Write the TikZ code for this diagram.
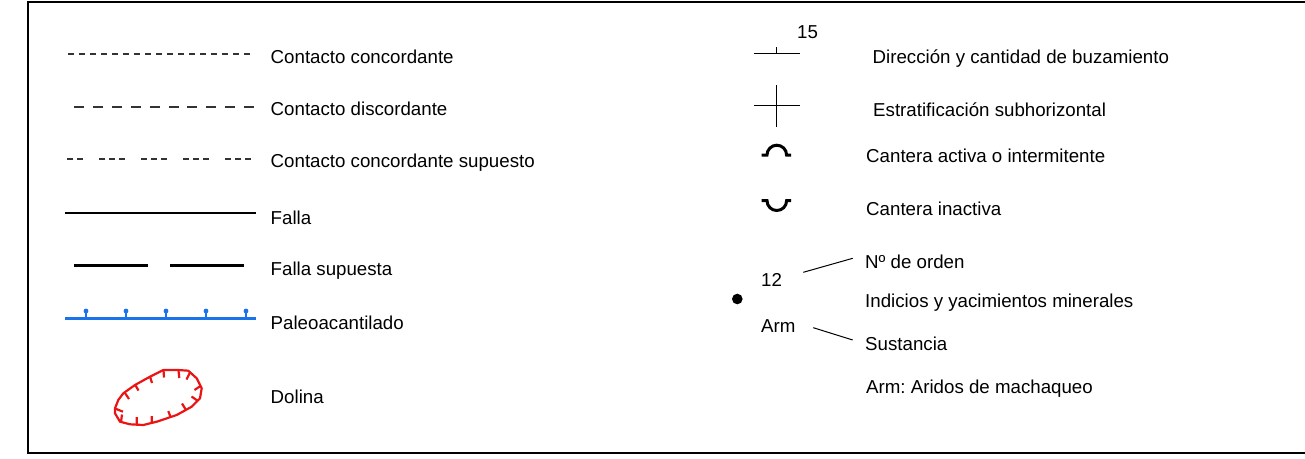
\documentclass[tikz,border=0pt]{standalone}
\usepackage{fontspec}
\setmainfont{Liberation Sans}
\definecolor{paleo}{RGB}{25,115,235}
\definecolor{dolred}{RGB}{235,20,20}
\frenchspacing
\begin{document}
\begin{tikzpicture}[x=1pt,y=-1pt,
  lbl/.style={anchor=base west,inner sep=0pt,font=\fontsize{18.7}{22}\selectfont},
  thinline/.style={draw=black!80,line width=1.1pt},
  falla/.style={draw=black,line width=2.6pt},
  cantera/.style={draw=black,line width=3pt},
  dolina/.style={draw=dolred,line width=2.2pt,line join=round}]
\useasboundingbox (0,0) rectangle (1305,458);
\draw[line width=2.5pt] (1320,1.8) -- (28,1.8) -- (28,453) -- (1320,453);

% ---- left column symbols
\draw[thinline,dash pattern=on 6pt off 5pt] (68,54) -- (254,54);
\draw[thinline,dash pattern=on 10pt off 8.9pt] (74,107) -- (254,107);
\draw[thinline,dash pattern=on 6pt off 4pt on 6pt off 4pt on 6pt off 16pt,dash phase=10pt] (67,159) -- (255,159);
\draw[falla] (65,213) -- (256,213);
\draw[falla] (74,265.3) -- (148,265.3);
\draw[falla] (170,265.3) -- (244,265.3);
\draw[draw=paleo,line width=3pt] (65,318.3) -- (256,318.3);
\foreach \t in {86,126,166,206,246}{
  \draw[draw=paleo,line width=1.8pt] (\t,318) -- (\t,311);
  \fill[paleo] (\t,311) circle (2.4);
}
% dolina
\draw[dolina] (115,408.3) -- (118.3,400) -- (123.3,393.3) -- (135,385) -- (150,376.7)
  -- (163.3,370) -- (178.3,370) -- (188.3,370.7) -- (196.7,378.3) -- (201.7,388.3)
  -- (200,398.3) -- (191.7,406.7) -- (176.7,415) -- (156.7,421.7) -- (143.3,425)
  -- (130,424.3) -- (120,421.7) -- (115,413.3) -- cycle;
\draw[dolina] (125,393) -- (129,399)
  (135,384.5) -- (138.5,390.5)
  (150,376.5) -- (152,383)
  (163.5,370) -- (164,377.5)
  (178.5,370.5) -- (179.3,378)
  (190,372.5) -- (186.5,379.5)
  (200.5,386) -- (194.5,390)
  (198,401) -- (191.5,396.5)
  (186,410) -- (182,403.5)
  (170.5,417) -- (168.3,411)
  (151.7,423) -- (151.7,416)
  (136.7,424.7) -- (136.7,417)
  (121,422) -- (122,414.5)
  (115,408.5) -- (123,411.7);

% ---- left column labels
\node[lbl] (l1) at (270.5,63) {Contacto concordante};
\node[lbl] (l2) at (270.5,115) {Contacto discordante};
\node[lbl] (l3) at (270.5,167) {Contacto concordante supuesto};
\node[lbl] (l4) at (270.5,224) {Falla};
\node[lbl] (l5) at (270.5,275) {Falla supuesta};
\node[lbl] (l6) at (270.5,329) {Paleoacantilado};
\node[lbl] (l7) at (270.5,403) {Dolina};

% ---- right column symbols
\draw[line width=1.2pt] (754,53.3) -- (800,53.3) (776.7,53.3) -- (776.7,46.5);
\node[lbl] (dip) at (797,38.3) {15};
\draw[line width=1.2pt] (754,105.7) -- (800,105.7) (776.7,85) -- (776.7,126.7);
\draw[cantera] (761.7,155) -- (767,155) arc[start angle=180,end angle=360,radius=9.8] -- (791,155);
\draw[cantera] (761.7,200.7) -- (767,200.7) arc[start angle=180,end angle=0,radius=9.8] -- (791,200.7);
\fill (737.3,299) circle (5.3);
\node[lbl] (n12) at (761,286.7) {12};
\node[lbl] (narm) at (761,332) {Arm};
\coordinate (a1) at (803.3,272.3);
\coordinate (a2) at (852.7,258.3);
\coordinate (b1) at (813.3,327.7);
\coordinate (b2) at (852.7,340);
\draw[line width=1pt] (a1) -- (a2);
\draw[line width=1pt] (b1) -- (b2);

% ---- right column labels
\node[lbl] (r1) at (872.5,63) {Dirección y cantidad de buzamiento};
\node[lbl] (r2) at (873,116) {Estratificación subhorizontal};
\node[lbl] (r3) at (866,162) {Cantera activa o intermitente};
\node[lbl] (r4) at (866,215) {Cantera inactiva};
\node[lbl] (r5) at (865,268.3) {Nº de orden};
\node[lbl] (r6) at (865,307) {Indicios y yacimientos minerales};
\node[lbl] (r7) at (865,350) {Sustancia};
\node[lbl] (r8) at (866,393) {Arm: Aridos de machaqueo};
\end{tikzpicture}
\end{document}
